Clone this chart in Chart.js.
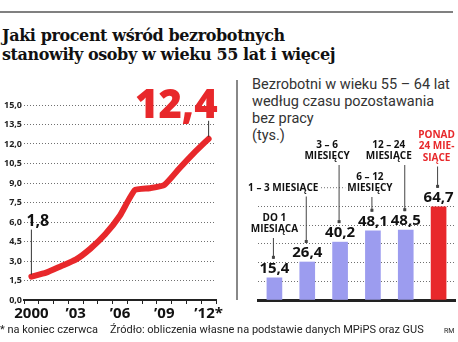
<!DOCTYPE html>
<html lang="pl">
<head>
<meta charset="utf-8">
<script src="https://cdn.jsdelivr.net/npm/chart.js@4.4.1/dist/chart.umd.min.js"></script>
<style>
  html, body { margin: 0; padding: 0; background: #fff; }
  body { width: 458px; height: 342px; position: relative; overflow: hidden; font-family: 'Open Sans', sans-serif; color: #222; }
  .rule-top { position: absolute; left: 0; top: 11px; width: 453px; height: 2px; background: #808080; }
  .title { position: absolute; left: 2px; top: 26px; margin: 0; font: bold 16px/19px 'DejaVu Serif', serif; color: #111; letter-spacing: -0.4px; }
  .rule-v { position: absolute; left: 236px; top: 80px; width: 1.5px; height: 220px; background: #888; }
  .sub { position: absolute; left: 252px; top: 76px; font: 14.5px/17px Roboto, sans-serif; color: #333; }
  .foot { position: absolute; top: 323px; font: 11px Roboto, sans-serif; color: #222; white-space: nowrap; }
  #lineWrap { position: absolute; left: 0; top: 80px; width: 232px; height: 245px; }
  #barWrap { position: absolute; left: 240px; top: 125px; width: 218px; height: 185px; }
</style>
</head>
<body>
<div class="rule-top"></div>
<h1 class="title">Jaki procent wśród bezrobotnych<br>stanowiły osoby w wieku 55 lat i więcej</h1>
<div class="rule-v"></div>
<div class="sub">Bezrobotni w wieku 55 – 64 lat<br>według czasu pozostawania<br>bez pracy<br>(tys.)</div>
<div id="lineWrap"><canvas id="shareChart"></canvas></div>
<div id="barWrap"><canvas id="durationChart"></canvas></div>
<div class="foot" style="left:0">* na koniec czerwca</div>
<div class="foot" style="left:110px">Źródło: obliczenia własne na podstawie danych MPiPS oraz GUS</div>
<div class="foot" style="left:444px; font-size:7px; top:327px">RM</div>

<script>
// left chart: share of 55+ among unemployed (%)
const years = ['2000', '2001', '2002', '2003', '2004', '2005', '2006', '2007', '2008', '2009', '2010', '2011', '2012'];
const yearTickLabels = ['2000', '', '', '\u201903', '', '', '\u201906', '', '', '\u201909', '', '', '\u201912*'];
const shareValues = [1.8, 2.1, 2.6, 3.1, 3.95, 5.05, 6.5, 8.45, 8.6, 8.85, 10.1, 11.3, 12.4];

// right chart: unemployed 55-64 by duration (thousands)
const durationLabels = [
    ['DO 1', 'MIESIĄCA'],
    ['1 – 3 MIESIĄCE'],
    ['3 – 6', 'MIESIĘCY'],
    ['6 – 12', 'MIESIĘCY'],
    ['12 – 24', 'MIESIĄCE'],
    ['PONAD', '24 MIE-', 'SIĄCE']
];
const durationValues = [15.4, 26.4, 40.2, 48.1, 48.5, 64.7];

const RED = '#e8282b';
const LAVENDER = '#9c9cef';
const GRID = '#707070';
const fmt = v => v.toFixed(1).replace('.', ',');

function createShareChart() {
    const ctx = document.getElementById('shareChart').getContext('2d');

    // value callouts for first and last point
    const callouts = {
        id: 'callouts',
        afterDatasetsDraw(chart) {
            const pts = chart.getDatasetMeta(0).data;
            const first = pts[0], last = pts[pts.length - 1];
            const c = chart.ctx;
            c.save();
            c.strokeStyle = '#333';
            c.lineWidth = 1;
            c.beginPath();
            c.moveTo(first.x, first.y - 2);
            c.lineTo(first.x, first.y - 47);
            c.moveTo(last.x, last.y - 2);
            c.lineTo(last.x, last.y - 18);
            c.stroke();

            c.fillStyle = '#111';
            c.font = 'bold 16px "Open Sans"';
            c.textAlign = 'left';
            c.textBaseline = 'alphabetic';
            c.fillText(fmt(shareValues[0]), first.x - 5, first.y - 51);

            c.fillStyle = RED;
            c.font = '800 40px "Open Sans"';
            c.textAlign = 'right';
            c.fillText(fmt(shareValues[shareValues.length - 1]), last.x + 9, last.y - 21);
            c.restore();
        }
    };

    new Chart(ctx, {
        type: 'line',
        data: {
            labels: years,
            datasets: [{
                data: shareValues,
                borderColor: RED,
                borderWidth: 6,
                tension: 0.15,
                pointRadius: 0,
                borderJoinStyle: 'round',
                borderCapStyle: 'round'
            }]
        },
        options: {
            responsive: true,
            maintainAspectRatio: false,
            animation: false,
            layout: { padding: { top: 25, right: 16, left: 0, bottom: 0 } },
            plugins: { legend: { display: false }, tooltip: { enabled: false } },
            scales: {
                x: {
                    offset: true,
                    afterFit: s => { s.height = 25; },
                    grid: { drawOnChartArea: false, offset: true, tickLength: 4, color: '#222' },
                    border: { color: '#222', width: 2 },
                    ticks: {
                        autoSkip: false,
                        maxRotation: 0,
                        padding: 1,
                        color: '#111',
                        font: { family: 'Open Sans', size: 15, weight: 'bold' },
                        callback: (v, i) => yearTickLabels[i]
                    }
                },
                y: {
                    min: 0,
                    max: 15,
                    afterFit: s => { s.width = 24; },
                    ticks: {
                        stepSize: 1.5,
                        padding: 2,
                        color: '#222',
                        font: { family: 'Open Sans', size: 9, weight: 'bold' },
                        callback: v => fmt(v)
                    },
                    grid: { drawTicks: false, color: c => c.tick.value > 0 ? GRID : 'rgba(0,0,0,0)', lineWidth: 1 },
                    border: { display: false, dash: [1, 2] }
                }
            }
        },
        plugins: [callouts]
    });
}

function createDurationChart() {
    const ctx = document.getElementById('durationChart').getContext('2d');

    // label block placement relative to each bar - layout only
    const labelTop = [87, 57, 14, 46, 14, 4];
    const labelShift = [0, -24, -13, -3, -17, -2];

    const barLabels = {
        id: 'barLabels',
        beforeDatasetsDraw(chart) {
            // partial grid line seen behind the first labels
            const y = chart.scales.y.getPixelForValue(78);
            const bars = chart.getDatasetMeta(0).data;
            const c = chart.ctx;
            c.save();
            c.strokeStyle = GRID;
            c.lineWidth = 1;
            c.setLineDash([1, 2]);
            c.beginPath();
            c.moveTo(chart.chartArea.left, y);
            c.lineTo(bars[2].x + 7, y);
            c.stroke();
            c.restore();
        },
        afterDatasetsDraw(chart) {
            const bars = chart.getDatasetMeta(0).data;
            const c = chart.ctx;
            c.save();
            bars.forEach((bar, i) => {
                const lines = durationLabels[i];
                const isLast = i === bars.length - 1;
                const lineH = 11.5;
                const lx = bar.x + labelShift[i];

                // value above bar
                const valueBase = bar.y - 5;
                c.font = 'bold 15px "Open Sans"';
                c.textAlign = 'center';
                c.textBaseline = 'alphabetic';
                c.fillStyle = '#111';
                c.fillText(fmt(durationValues[i]), bar.x, valueBase);

                // category label with white backing
                c.font = 'bold 10px "Open Sans"';
                c.textBaseline = 'middle';
                lines.forEach((t, k) => {
                    const ly = labelTop[i] + lineH * k + lineH / 2;
                    const w = c.measureText(t).width;
                    c.fillStyle = '#fff';
                    c.fillRect(lx - w / 2 - 2, ly - lineH / 2, w + 4, lineH);
                    c.fillStyle = isLast ? RED : '#111';
                    c.fillText(t, lx, ly);
                });

                // connector
                const cx = bar.x - 1;
                const fromY = labelTop[i] + lineH * lines.length + 3;
                const toY = valueBase - 14;
                c.strokeStyle = '#444';
                c.lineWidth = 1;
                c.beginPath();
                c.moveTo(cx, fromY);
                c.lineTo(cx, toY);
                c.stroke();
                c.fillStyle = '#444';
                c.fillRect(cx - 1.5, toY - 3, 3, 3);
            });
            c.restore();
        }
    };

    new Chart(ctx, {
        type: 'bar',
        data: {
            labels: durationLabels.map(l => l.join(' ')),
            datasets: [{
                data: durationValues,
                backgroundColor: durationValues.map((v, i) => i === durationValues.length - 1 ? RED : LAVENDER),
                barThickness: 15
            }]
        },
        options: {
            responsive: true,
            maintainAspectRatio: false,
            animation: false,
            layout: { padding: { top: 44, right: 3, left: 18, bottom: 0 } },
            plugins: { legend: { display: false }, tooltip: { enabled: false } },
            scales: {
                x: {
                    afterFit: s => { s.height = 10; },
                    ticks: { display: false },
                    grid: { display: false },
                    border: { color: '#222', width: 3 }
                },
                y: {
                    min: 0,
                    max: 91,
                    afterFit: s => { s.width = 0; },
                    ticks: { display: false, stepSize: 13 },
                    grid: {
                        drawTicks: false,
                        color: c => (c.tick.value > 0 && c.tick.value <= 65) ? GRID : 'rgba(0,0,0,0)'
                    },
                    border: { display: false, dash: [1, 2] }
                }
            }
        },
        plugins: [barLabels]
    });
}

createShareChart();
createDurationChart();
</script>
</body>
</html>
